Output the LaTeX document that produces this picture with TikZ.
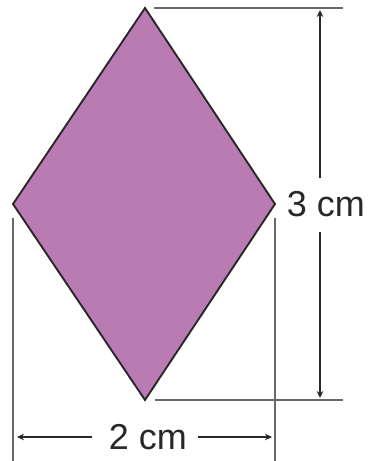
\documentclass[tikz,border=0pt]{standalone}
\usepackage{fontspec}
\setmainfont{Liberation Sans}
\usetikzlibrary{arrows.meta}
\definecolor{rhfill}{RGB}{186,122,178}
\definecolor{extgray}{RGB}{105,105,105}
\definecolor{dimdark}{RGB}{40,40,40}
\tikzset{
  ext/.style={draw=extgray, line width=2.3pt},
  dimarrow/.style={draw=dimdark, line width=2pt, -{Stealth[length=7pt,width=6.5pt]}},
  dimlabel/.style={font=\fontsize{36}{40}\selectfont, text=dimdark, inner sep=0pt}
}
\begin{document}
\begin{tikzpicture}[x=1pt,y=-1pt]
\useasboundingbox (0,0) rectangle (369,461);
\coordinate (T) at (145,8);
\coordinate (R) at (275,204);
\coordinate (B) at (145,400);
\coordinate (L) at (13,204);
\fill[rhfill, draw=dimdark, line width=1.9pt, line join=miter] (T) -- (R) -- (B) -- (L) -- cycle;
% extension lines
\coordinate (et1) at (154,8);   \coordinate (et2) at (343,8);
\coordinate (eb1) at (155,400); \coordinate (eb2) at (343,400);
\coordinate (el1) at (13,218);  \coordinate (el2) at (13,461);
\coordinate (er1) at (275,218); \coordinate (er2) at (275,461);
\draw[ext] (et1) -- (et2);
\draw[ext] (eb1) -- (eb2);
\draw[ext] (el1) -- (el2);
\draw[ext] (er1) -- (er2);
% labels
\node[dimlabel] (h) at (326,204) {3 cm};
\node[dimlabel] (w) at (148,437) {2 cm};
% vertical dimension
\coordinate (vt) at (320,10);
\coordinate (vb) at (320,398);
\coordinate (vm1) at (320,178);
\coordinate (vm2) at (320,232);
\draw[dimarrow] (vm1) -- (vt);
\draw[dimarrow] (vm2) -- (vb);
% horizontal dimension
\coordinate (hl) at (17,437);
\coordinate (hr) at (272,437);
\coordinate (hm1) at (92,437);
\coordinate (hm2) at (198,437);
\draw[dimarrow] (hm1) -- (hl);
\draw[dimarrow] (hm2) -- (hr);
\end{tikzpicture}
\end{document}
